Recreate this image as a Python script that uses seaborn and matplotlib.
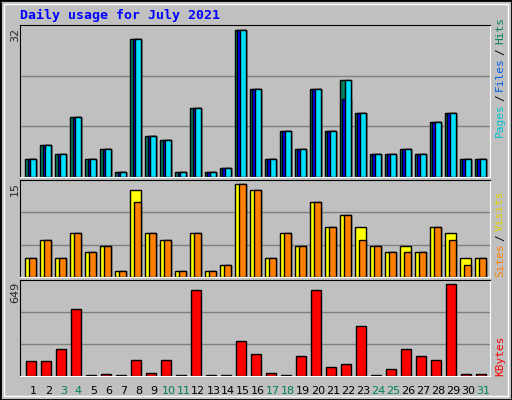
import numpy as np
import matplotlib
matplotlib.use('Agg')
import matplotlib.pyplot as plt
import seaborn as sns
from matplotlib.patches import Rectangle

days = np.arange(1, 32)
weekend = [3, 4, 10, 11, 17, 18, 24, 25, 31]
hits = [4, 7, 5, 13, 4, 6, 1, 30, 9, 8, 1, 15, 1, 2, 32, 19, 4, 10, 6, 19, 10, 21, 14, 5, 5, 6, 5, 12, 14, 4, 4]
files = [4, 7, 5, 13, 4, 6, 1, 30, 9, 8, 1, 15, 1, 2, 32, 19, 4, 10, 6, 19, 10, 17, 14, 5, 5, 6, 5, 12, 14, 4, 4]
pages = [4, 7, 5, 13, 4, 6, 1, 30, 9, 8, 1, 15, 1, 2, 32, 19, 4, 10, 6, 19, 10, 21, 14, 5, 5, 6, 5, 12, 14, 4, 4]
visits = [3, 6, 3, 7, 4, 5, 1, 14, 7, 6, 1, 7, 1, 2, 15, 14, 3, 7, 5, 12, 8, 10, 8, 5, 4, 5, 4, 8, 7, 3, 3]
sites = [3, 6, 3, 7, 4, 5, 1, 12, 7, 6, 1, 7, 1, 2, 15, 14, 3, 7, 5, 12, 8, 10, 6, 5, 4, 4, 4, 8, 6, 2, 3]
kbytes = [109, 109, 194, 472, 5, 12, 5, 116, 24, 116, 5, 607, 5, 5, 251, 159, 24, 5, 145, 607, 66, 88, 351, 5, 52, 194, 145, 116, 649, 12, 12]

BG = '#C0C0C0'
sns.set_style('white')
plt.rcParams['font.family'] = ['DejaVu Sans Mono']

fig = plt.figure(figsize=(5.12, 4.0), dpi=100)
fig.patch.set_facecolor(BG)
# frame around figure
fig.patches.append(Rectangle((0, 0), 1, 1, transform=fig.transFigure, fill=False,
                             edgecolor='black', lw=2))
fig.patches.append(Rectangle((4/512, 4/400), 504/512, 392/400, transform=fig.transFigure,
                             fill=False, edgecolor='white', lw=1))

XL, XW = 20/512, 470/512


def panel(top, bot, ymax):
    ax = fig.add_axes([XL, 1 - bot/400, XW, (bot - top)/400])
    ax.set_facecolor(BG)
    ax.set_ylim(0, ymax)
    for f in (1/3, 2/3):
        ax.axhline(ymax * f, color='#808080', lw=1, zorder=0)
    ax.spines['left'].set_color('black')
    ax.spines['top'].set_color('black')
    ax.spines['right'].set_color('white')
    ax.spines['bottom'].set_color('white')
    return ax


def bars(ax, vals, width, color):
    x = days + 0.3 - width / 2
    sns.barplot(x=x, y=vals, native_scale=True, width=width, color=color,
                edgecolor='black', linewidth=1, saturation=1, ax=ax, zorder=2)


ax1 = panel(25, 177, 33)
bars(ax1, hits, 0.77, '#00805C')
bars(ax1, files, 0.59, '#0000FF')
bars(ax1, pages, 0.44, '#00E0FF')

ax2 = panel(180, 277, 15.6)
bars(ax2, visits, 0.77, '#FFFF00')
bars(ax2, sites, 0.48, '#FF8000')

ax3 = panel(280, 376, 680)
bars(ax3, kbytes, 0.7, '#FF0000')

for ax in (ax1, ax2, ax3):
    ax.set_xlim(0.2, 31.56)
    ax.set_xticks([]); ax.set_yticks([])
    ax.set_xlabel(''); ax.set_ylabel('')

for d in days:
    c = '#00805C' if d in weekend else 'black'
    ax3.text(d + 0.1, -0.1, str(d), transform=ax3.get_xaxis_transform(),
             ha='center', va='top', fontsize=8, color=c, family='DejaVu Sans')

fig.text(20/512, 1 - 15/400, 'Daily usage for July 2021', color='#0000FF',
         fontsize=9.5, fontweight='bold', va='center', ha='left')

for y, s in [(28, '32'), (182, '15'), (282, '649')]:
    fig.text(15/512, 1 - y/400, s, rotation=90, ha='center', va='top', fontsize=8,
             family='DejaVu Sans')


def side(parts, ybottom):
    y = ybottom
    for s, c in parts:
        fig.text(500/512, 1 - y/400, s, rotation=90, ha='center', va='bottom',
                 fontsize=8, color=c)
        y -= len(s) * 6.4 + 4


side([('Pages', '#00C0D0'), ('/', 'black'), ('Files', '#0060E0'), ('/', 'black'),
      ('Hits', '#00805C')], 137)
side([('Sites', '#FF8000'), ('/', 'black'), ('Visits', '#E0D000')], 277)
side([('KBytes', '#FF0000')], 376)

plt.savefig('out.png', dpi=100, facecolor=BG)
